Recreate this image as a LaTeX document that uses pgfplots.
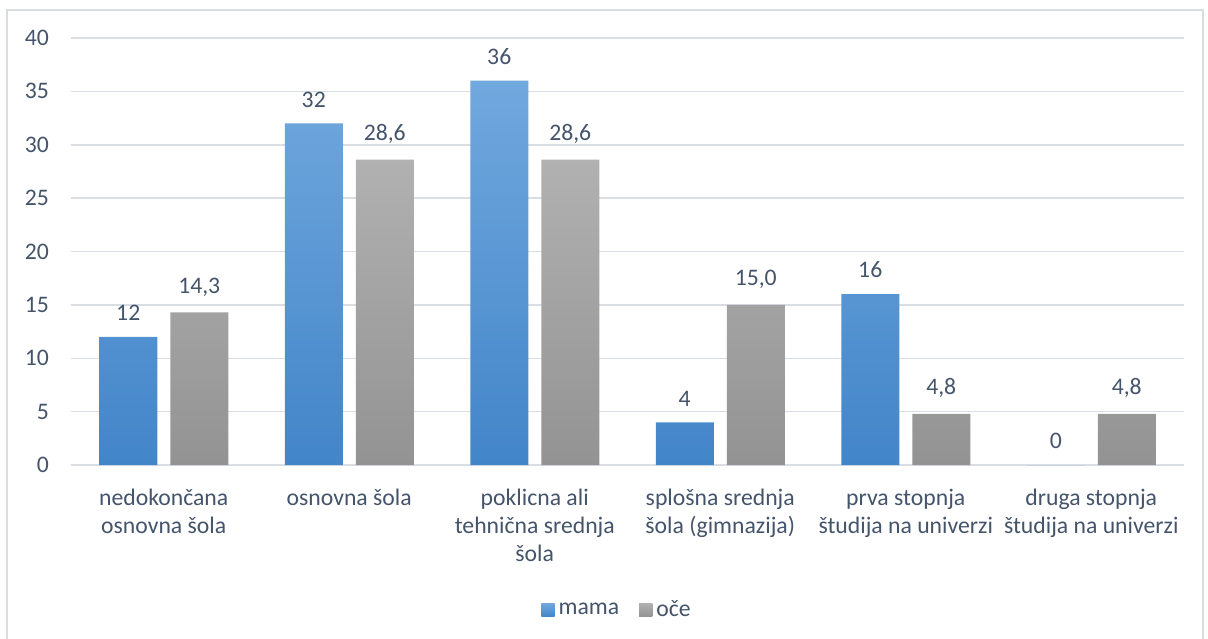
\documentclass[border=0pt]{standalone}
\usepackage{pgfplots}
\pgfplotsset{compat=1.18}
\usepackage{fontspec}
\setmainfont{Carlito}
\definecolor{txt}{HTML}{44546A}
\definecolor{grd}{HTML}{D9DEE5}
\definecolor{frm}{HTML}{D9DCE1}
\definecolor{btop}{HTML}{71A8DE}
\definecolor{bbot}{HTML}{4285C9}
\definecolor{gtop}{HTML}{B1B1B1}
\definecolor{gbot}{HTML}{939393}
\begin{document}
\begin{tikzpicture}
\draw[frm, line width=0.7pt] (3.5pt,-5pt) -- (3.5pt,314pt) -- (601.5pt,314pt) -- (601.5pt,-5pt);
\begin{axis}[
  at={(35.5pt,86.5pt)}, anchor=south west,
  scale only axis, width=556.5pt, height=213.5pt,
  ymin=0, ymax=40, ytick={0,5,...,40},
  xmin=-0.5, xmax=5.5, xtick={0,...,5},
  xticklabels={{nedokončana\\osnovna šola},{osnovna šola},{poklicna ali\\tehnična srednja\\šola},{splošna srednja\\šola (gimnazija)},{prva stopnja\\študija na univerzi},{druga stopnja\\študija na univerzi}},
  axis line style={draw=none},
  major tick length=0pt,
  ymajorgrids, grid style={grd, line width=0.75pt},
  /pgf/number format/assume math mode=true,
  font=\fontsize{11.85}{14}\selectfont\color{txt},
  yticklabel style={font=\fontsize{11.85}{14}\selectfont\color{txt}, xshift=-7.5pt},
  xticklabel style={font=\fontsize{11.85}{14}\selectfont\color{txt}, align=center, yshift=-8.5pt},
  ybar, bar width=29pt,
  legend style={at={(0.4915,-0.3395)}, anchor=center, draw=none, fill=none,
    legend columns=2, font=\fontsize{11.85}{14}\selectfont\color{txt},
    /tikz/every even column/.append style={column sep=8pt}},
  legend image code/.code={\path[#1, draw=none] (-3pt,-3.2pt) rectangle (3.6pt,3.4pt);},
  nodes near coords align={south},
  nodes near coords style={font=\fontsize{11.85}{14}\selectfont\color{txt}, anchor=south, yshift=4.5pt},
]
\addplot[draw=none, top color=btop, bottom color=bbot, bar shift=-17.75pt,
  nodes near coords={\pgfmathprintnumber[fixed,precision=0]{\pgfplotspointmeta}}]
  coordinates {(0,12) (1,32) (2,36) (3,4) (4,16) (5,0)};
\addplot[draw=none, top color=gtop, bottom color=gbot, bar shift=17.75pt,
  nodes near coords={\pgfmathprintnumber[fixed,fixed zerofill,precision=1,use comma]{\pgfplotspointmeta}}]
  coordinates {(0,14.3) (1,28.6) (2,28.6) (3,15.0) (4,4.8) (5,4.8)};
\legend{mama,oče}
\end{axis}
\pgfresetboundingbox
\path[use as bounding box] (0pt,0pt) rectangle (604pt,319pt);
\end{tikzpicture}
\end{document}
